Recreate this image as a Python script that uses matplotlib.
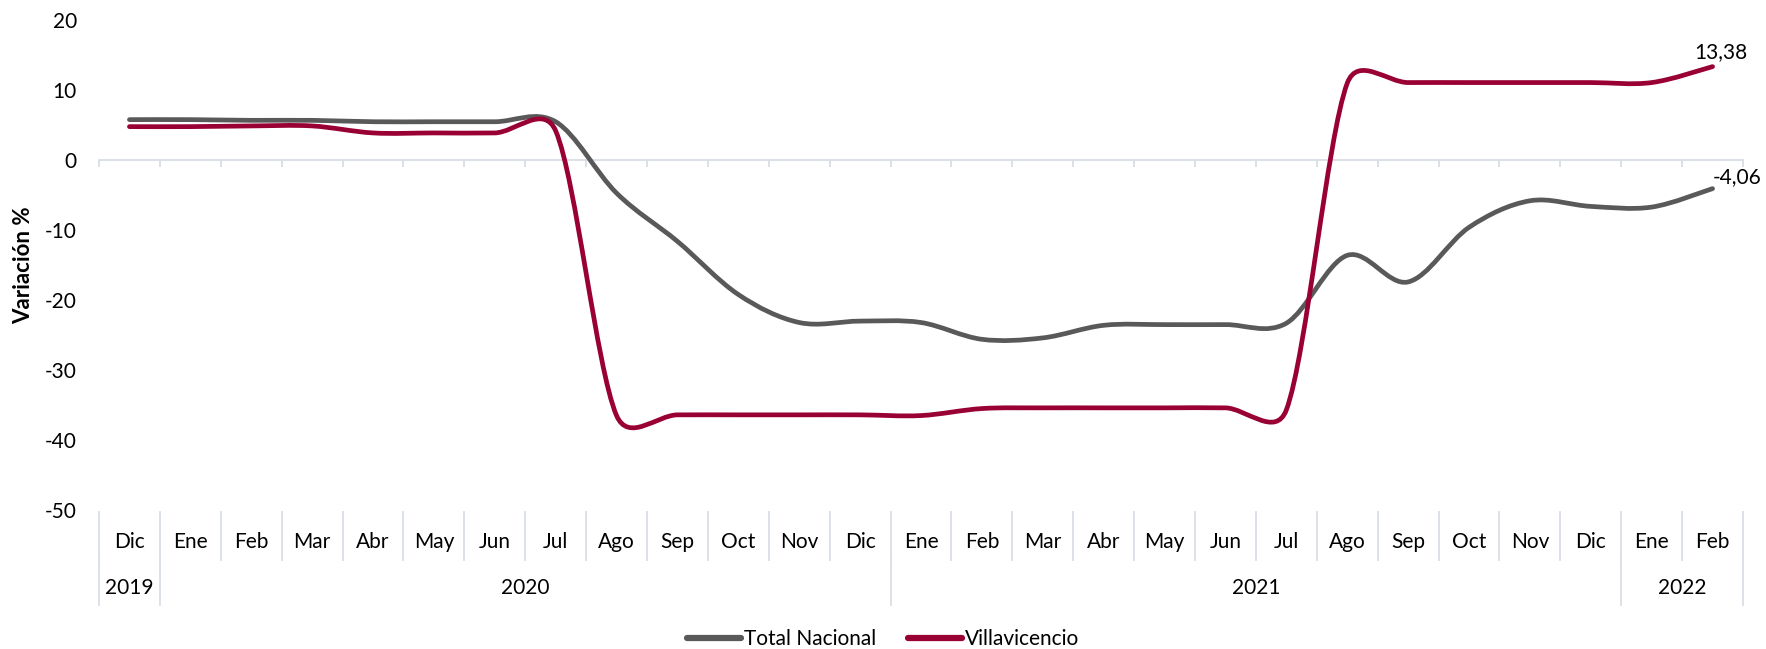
import matplotlib
matplotlib.use("Agg")
import matplotlib.pyplot as plt
from matplotlib.path import Path
from matplotlib.patches import PathPatch
from matplotlib.lines import Line2D
import numpy as np

plt.rcParams['font.family'] = ['Lato', 'DejaVu Sans']
plt.rcParams['axes.unicode_minus'] = False

months = ["Dic", "Ene", "Feb", "Mar", "Abr", "May", "Jun", "Jul", "Ago", "Sep", "Oct", "Nov", "Dic",
          "Ene", "Feb", "Mar", "Abr", "May", "Jun", "Jul", "Ago", "Sep", "Oct", "Nov", "Dic",
          "Ene", "Feb"]
years = ["2019", "2020", "2021", "2022"]
year_counts = [1, 12, 12, 2]

total_nacional = [5.8, 5.8, 5.7, 5.7, 5.5, 5.5, 5.5, 5.5, -4.7, -11.6, -19.2, -23.2, -23.0,
                  -23.2, -25.6, -25.4, -23.6, -23.5, -23.5, -23.3, -13.6, -17.4, -9.6, -5.8, -6.6,
                  -6.7, -4.06]
villavicencio = [4.8, 4.8, 4.9, 4.9, 3.9, 3.9, 3.9, 4.2, -36.5, -36.4, -36.4, -36.4, -36.4,
                 -36.5, -35.5, -35.4, -35.4, -35.4, -35.4, -35.7, 11.0, 11.1, 11.1, 11.1, 11.1,
                 11.1, 13.38]

series = [("Total Nacional", total_nacional, "#595959"),
          ("Villavicencio", villavicencio, "#990033")]

FS = 15
W, H = 1766, 649
fig = plt.figure(figsize=(W / 100, H / 100), dpi=100)
left, right = 99 / W, 1743 / W
top, bottom = 1 - 20.3 / H, 1 - 510 / H
ax = fig.add_axes([left, bottom, right - left, top - bottom])

n = len(months)
ax.set_xlim(-0.5, n - 0.5)
ax.set_ylim(-50, 20)


def smooth_path(vals):
    # Bezier smoothing computed in screen space, with control arms limited
    # to half of the segment length (similar to spreadsheet smoothed lines)
    pts = ax.transData.transform(np.column_stack([np.arange(len(vals)), vals]))
    m = len(pts)
    verts = [pts[0]]
    codes = [Path.MOVETO]
    for i in range(m - 1):
        p0 = pts[i - 1] if i > 0 else pts[i]
        p1 = pts[i]
        p2 = pts[i + 1]
        p3 = pts[i + 2] if i + 2 < m else pts[i + 1]
        d12 = np.hypot(*(p2 - p1))
        d02 = np.hypot(*(p2 - p0))
        d13 = np.hypot(*(p3 - p1))
        f0 = 1 / 6 if d02 / 6 < d12 / 2 else d12 / d02 / 2
        f1 = 1 / 6 if d13 / 6 < d12 / 2 else d12 / d13 / 2
        c1 = p1 + f0 * (p2 - p0)
        c2 = p2 - f1 * (p3 - p1)
        verts += [c1, c2, p2]
        codes += [Path.CURVE4] * 3
    data_verts = ax.transData.inverted().transform(np.array(verts))
    return Path(data_verts, codes)


for name, vals, col in series:
    patch = PathPatch(smooth_path(vals), facecolor="none", edgecolor=col, lw=3.4,
                      capstyle="round", joinstyle="round", transform=ax.transData, zorder=3)
    ax.add_patch(patch)

ax.set_yticks(range(-50, 21, 10))
ax.tick_params(axis="y", length=0, pad=16, labelsize=FS)

grid_col = "#D9DEE6"
for s in ["top", "right", "left"]:
    ax.spines[s].set_visible(False)
ax.spines["bottom"].set_position(("data", 0))
ax.spines["bottom"].set_color(grid_col)
ax.spines["bottom"].set_linewidth(1.3)
ax.set_xticks([i - 0.5 for i in range(n + 1)])
ax.set_xticklabels([])
ax.tick_params(axis="x", length=5, width=1.3, color=grid_col, direction="out")

ax.set_ylabel("Variación %", fontsize=16, fontweight="bold", labelpad=8)

trans = ax.get_xaxis_transform()
ax_h = 510 - 20.3


def fy(px):
    return (510 - px) / ax_h


for i, m in enumerate(months):
    ax.text(i, fy(542), m, transform=trans, ha="center", va="center", fontsize=FS, clip_on=False)
for i in range(n + 1):
    ax.plot([i - 0.5, i - 0.5], [fy(512), fy(560)], transform=trans, color=grid_col,
            lw=1.3, clip_on=False)
start = 0
bounds = [-0.5]
for y, c in zip(years, year_counts):
    ax.text(start + (c - 1) / 2, fy(588), y, transform=trans, ha="center", va="center",
            fontsize=FS, clip_on=False)
    start += c
    bounds.append(start - 0.5)
for b in bounds:
    ax.plot([b, b], [fy(560), fy(605)], transform=trans, color=grid_col, lw=1.3, clip_on=False)

ax.annotate("13,38", (n - 1, villavicencio[-1]), xytext=(6, 3), textcoords="offset points",
            ha="center", va="bottom", fontsize=FS)
ax.annotate("-4,06", (n - 1, total_nacional[-1]), xytext=(0, 1), textcoords="offset points",
            ha="left", va="bottom", fontsize=FS)

handles = [Line2D([], [], color=c, lw=4.5, solid_capstyle="round") for _, _, c in series]
fig.legend(handles, [s[0] for s in series], loc="center", bbox_to_anchor=(0.5, 1 - 639 / H),
           ncol=2, frameon=False, fontsize=FS, handlelength=2.6, handletextpad=0.15,
           columnspacing=1.5)

fig.savefig("out.png", dpi=100)
